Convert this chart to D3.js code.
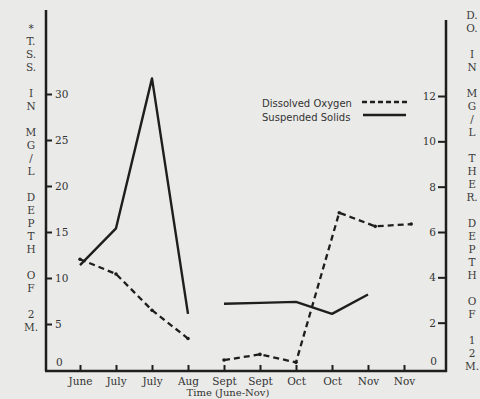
<!DOCTYPE html>
<html>
<head>
<meta charset="utf-8">
<script src="https://cdn.jsdelivr.net/npm/d3@7"></script>
<style>
  html, body { margin: 0; padding: 0; background: #eaeae8; }
  svg { display: block; }
</style>
</head>
<body>
<svg id="chart"></svg>
<script>
// sampling dates along the time axis
const months = ["June", "July", "July", "Aug", "Sept", "Sept", "Oct", "Oct", "Nov", "Nov"];

// total suspended solids (mg/l, depth 2 m) - left axis
const tssTime = [0, 1, 2, 3, 4, 5, 6, 7, 8];
const tssValues = [11.4, 15.4, 31.7, 6.1, 7.2, 7.3, 7.4, 6.1, 8.2];

// dissolved oxygen (mg/l, thermocline depth 12 m) - right axis
const doTime = [0, 1, 2, 3, 4, 5, 6, 7.2, 8.2, 9.2];
const doValues = [4.8, 4.15, 2.55, 1.3, 0.35, 0.6, 0.25, 6.85, 6.25, 6.35];

// no samples between Aug and Sept
const gapAfter = 3;

const leftTicks = [0, 5, 10, 15, 20, 25, 30];
const rightTicks = [0, 2, 4, 6, 8, 10, 12];

const leftLabel = ["*", "T.", "S.", "S.", "", "I", "N", "", "M", "G", "/", "L", "", "D", "E", "P", "T", "H", "", "O", "F", "", "2", "M."];
const rightLabel = ["D.", "O.", "", "I", "N", "", "M", "G", "/", "L", "", "T", "H", "E", "R.", "", "D", "E", "P", "T", "H", "", "O", "F", "", "1", "2", "M."];

const width = 480, height = 399;
const ink = "#1e1e1e";

const svg = d3.select("#chart")
    .attr("width", width)
    .attr("height", height)
    .style("font-family", "'DejaVu Serif', serif");

const x = d3.scaleLinear().domain([0, 9]).range([80, 404]);
const yLeft = d3.scaleLinear().domain([0, 30]).range([370, 94]);
const yRight = d3.scaleLinear().domain([0, 12]).range([368, 96]);

// axis frame lines
svg.append("line").attr("x1", 46).attr("x2", 46).attr("y1", 10).attr("y2", 371)
    .attr("stroke", ink).attr("stroke-width", 2.5);
svg.append("line").attr("x1", 45).attr("x2", 447).attr("y1", 371).attr("y2", 371)
    .attr("stroke", ink).attr("stroke-width", 2.5);
svg.append("line").attr("x1", 446).attr("x2", 446).attr("y1", 20).attr("y2", 372)
    .attr("stroke", ink).attr("stroke-width", 2.5);

function styleAxis(g) {
    g.select(".domain").remove();
    g.selectAll(".tick line").attr("stroke", ink).attr("stroke-width", 2);
    g.selectAll(".tick text").attr("fill", "#333").style("font-size", "10.5px")
        .style("font-family", "'DejaVu Serif', serif");
}

// left axis, ticks pointing inward
const gl = svg.append("g")
    .attr("transform", "translate(46,0)")
    .call(d3.axisRight(yLeft).tickValues(leftTicks).tickSize(6).tickPadding(3))
    .call(styleAxis);
gl.selectAll(".tick").filter(d => d === 0).select("line").remove();
gl.selectAll(".tick").filter(d => d === 0).select("text").attr("x", 10).attr("y", -8);

// right axis
const gr = svg.append("g")
    .attr("transform", "translate(446,0)")
    .call(d3.axisLeft(yRight).tickValues(rightTicks).tickSize(8).tickPadding(2))
    .call(styleAxis);
gr.selectAll(".tick").filter(d => d === 0).select("line").remove();
gr.selectAll(".tick").filter(d => d === 0).select("text").attr("x", -9).attr("y", -7);

// time axis, ticks pointing up
const gb = svg.append("g")
    .attr("transform", "translate(0,371)")
    .call(d3.axisBottom(x).tickValues(d3.range(months.length))
        .tickFormat(i => months[i]).tickSizeInner(-6).tickSizeOuter(0).tickPadding(7))
    .call(styleAxis);

svg.append("text")
    .attr("x", 228).attr("y", 396)
    .attr("text-anchor", "middle")
    .attr("fill", "#333")
    .style("font-size", "10px")
    .text("Time (June-Nov)");

// stacked axis titles
svg.append("g").selectAll("text")
    .data(leftLabel)
    .enter().append("text")
    .attr("x", 31)
    .attr("y", (d, i) => 32 + i * 13)
    .attr("text-anchor", "middle")
    .attr("fill", "#3a3a3a")
    .style("font-size", "10.5px")
    .text(d => d);

svg.append("g").selectAll("text")
    .data(rightLabel)
    .enter().append("text")
    .attr("x", 472)
    .attr("y", (d, i) => 19 + i * 13)
    .attr("text-anchor", "middle")
    .attr("fill", "#3a3a3a")
    .style("font-size", "10.5px")
    .text(d => d);

// series
const tss = tssTime.map((t, i) => ({ t: t, v: tssValues[i] }));
const dox = doTime.map((t, i) => ({ t: t, v: doValues[i] }));

const tssLine = d3.line().x(d => x(d.t)).y(d => yLeft(d.v));
const doLine = d3.line().x(d => x(d.t)).y(d => yRight(d.v));

[tss.slice(0, gapAfter + 1), tss.slice(gapAfter + 1)].forEach(seg => {
    svg.append("path")
        .attr("d", tssLine(seg))
        .attr("fill", "none")
        .attr("stroke", ink)
        .attr("stroke-width", 2.4)
        .attr("stroke-linejoin", "round");
});

[dox.slice(0, gapAfter + 1), dox.slice(gapAfter + 1)].forEach(seg => {
    svg.append("path")
        .attr("d", doLine(seg))
        .attr("fill", "none")
        .attr("stroke", ink)
        .attr("stroke-width", 2.3)
        .attr("stroke-dasharray", "6,4");
});

svg.selectAll("circle.do")
    .data(dox)
    .enter().append("circle")
    .attr("class", "do")
    .attr("cx", d => x(d.t))
    .attr("cy", d => yRight(d.v))
    .attr("r", 1.8)
    .attr("fill", ink);

// legend
const legend = svg.append("g").style("font-family", "'DejaVu Sans', sans-serif");
legend.append("text").attr("x", 262).attr("y", 107).attr("fill", "#333")
    .style("font-size", "10px").text("Dissolved Oxygen");
legend.append("text").attr("x", 262).attr("y", 121).attr("fill", "#333")
    .style("font-size", "10px").text("Suspended Solids");
legend.append("line").attr("x1", 362).attr("x2", 408).attr("y1", 102).attr("y2", 102)
    .attr("stroke", ink).attr("stroke-width", 2.3).attr("stroke-dasharray", "5,3");
legend.append("line").attr("x1", 363).attr("x2", 406).attr("y1", 115).attr("y2", 115)
    .attr("stroke", ink).attr("stroke-width", 2.6);
</script>
</body>
</html>
